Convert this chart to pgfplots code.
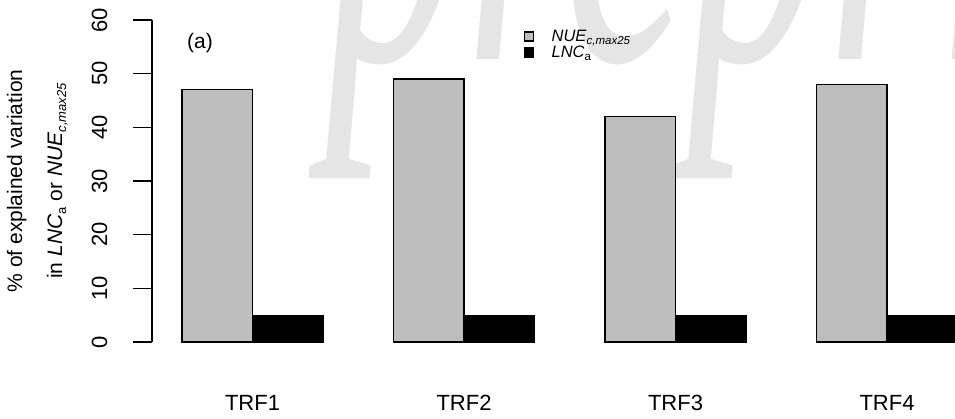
\documentclass[border=0pt]{standalone}
\usepackage{pgfplots}
\pgfplotsset{compat=1.18}
\usepackage{fontspec}
\setmainfont{Liberation Sans}
\newfontfamily\wmfont{Liberation Serif}
\definecolor{bargray}{RGB}{190,190,190}
\definecolor{wm}{RGB}{229,229,229}
\newcommand{\lsub}[1]{\raisebox{-3.5pt}{\fontsize{11.5}{12}\selectfont #1}}
\newcommand{\ysub}[1]{\raisebox{-4pt}{\fontsize{13}{14}\selectfont #1}}

\begin{document}
\begin{tikzpicture}
\useasboundingbox (0pt,0pt) rectangle (955pt,419pt);
% faint background watermark
\node[anchor=base west, inner sep=0, text=wm, xscale=0.5] at (325pt,359pt)
  {\fontsize{560}{560}\selectfont\wmfont\itshape preprint};
\begin{axis}[
  at={(152pt,77pt)}, anchor=south west,
  scale only axis, width=805.5pt, height=322pt,
  xmin=0.5745, xmax=12, ymin=0, ymax=60,
  axis y line=left, axis x line=bottom,
  x axis line style={draw=none},
  y axis line style={-, line width=1.5pt},
  xtick={2,5,8,11}, xticklabels={TRF1,TRF2,TRF3,TRF4},
  x tick style={draw=none},
  ytick={0,10,20,30,40,50,60},
  y tick style={line width=1.5pt, black},
  tick align=outside, major tick length=19pt,
  /pgf/number format/assume math mode=true,
  tick label style={font=\fontsize{22}{26}\selectfont},
  yticklabel style={rotate=90, anchor=base, yshift=26pt},
  xticklabel style={anchor=base, yshift=-50pt},
  clip=false,
  legend style={at={(axis description cs:0.4618,0.972)}, anchor=north west,
    draw=none, fill=none, inner sep=0pt, outer sep=0pt, row sep=0pt,
    column sep=0pt,
    nodes={inner sep=0pt, text height=12pt, text depth=4pt, anchor=base west},
    font=\fontsize{16.5}{18}\selectfont},
  legend cell align=left,
]
\addplot[ybar, bar width=1, bar shift=0pt, fill=bargray, draw=black, line width=1.3pt,
  legend image code/.code={\draw[fill=bargray, draw=black, line width=1.2pt] (0pt,0pt) rectangle (9pt,9pt); \path[draw=none, fill=none] (0pt,0pt) rectangle (27pt,1pt);}]
  coordinates {(1.5,47) (4.5,49) (7.5,42) (10.5,48)};
\addlegendentry{\textit{NUE}\lsub{\textit{c,max25}}}
\addplot[ybar, bar width=1, bar shift=0pt, fill=black, draw=black, line width=1.3pt,
  legend image code/.code={\draw[fill=black, draw=black, line width=1.2pt] (0pt,0pt) rectangle (9pt,9pt); \path[draw=none, fill=none] (0pt,0pt) rectangle (27pt,1pt);}]
  coordinates {(2.5,5) (5.5,5) (8.5,5) (11.5,5)};
\addlegendentry{\textit{LNC}\lsub{a}}
\end{axis}
\node[rotate=90, anchor=base, inner sep=0] at (22pt,238pt)
  {\fontsize{21}{25}\selectfont \% of explained variation};
\node[rotate=90, anchor=base, inner sep=0] at (62pt,238pt)
  {\fontsize{21}{25}\selectfont in \textit{LNC}\ysub{a} or \textit{NUE}\ysub{\textit{c,max25}}};
\node[anchor=base west, inner sep=0] at (187pt,370pt) {\fontsize{21}{25}\selectfont (a)};
\end{tikzpicture}
\end{document}
